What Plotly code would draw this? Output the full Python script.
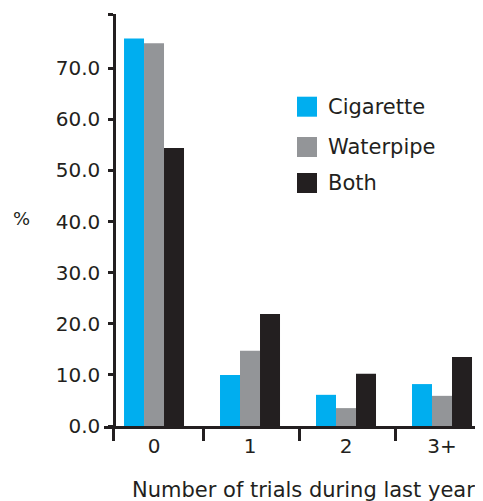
import plotly.graph_objects as go

categories = ["0", "1", "2", "3+"]
series_names = ["Cigarette", "Waterpipe", "Both"]
cigarette = [75.8, 10.0, 6.1, 8.2]
waterpipe = [74.9, 14.7, 3.5, 5.9]
both = [54.4, 21.9, 10.2, 13.5]
y_tick_vals = [0, 10, 20, 30, 40, 50, 60, 70, 80.6]
y_tick_text = ["0.0", "10.0", "20.0", "30.0", "40.0", "50.0", "60.0", "70.0", ""]
x_title = "Number of trials during last year"
y_title = "%"

colors = ["#00AEEF", "#939598", "#231F20"]
ink = "#231F20"
FONT = "DejaVu Sans, Verdana, sans-serif"

OFF = 8  # page body margin
W, H = 483 - OFF, 501 - OFF
L, R, T, B = 104 - OFF, 0, 14 - OFF, 75
pw, ph = W - L - R, H - T - B


def px_x(x):
    return (x - OFF - L) / pw


def px_y(y):
    return (H - B - (y - OFF)) / ph


xpos = list(range(len(categories)))
fig = go.Figure()
for name, vals, c in zip(series_names, [cigarette, waterpipe, both], colors):
    fig.add_trace(go.Bar(x=xpos, y=vals, name=name, marker=dict(color=c, line=dict(width=0)),
                         showlegend=False))

fig.update_layout(
    width=W, height=H,
    margin=dict(l=L, r=R, t=T, b=B, pad=0),
    paper_bgcolor="white", plot_bgcolor="white",
    barmode="group", bargap=0.375, bargroupgap=0,
    font=dict(family=FONT, color=ink, size=20),
    xaxis=dict(range=[-0.521, 3.427], tickvals=xpos, ticktext=categories, ticks="",
               showline=True, linewidth=3, linecolor=ink, showgrid=False, zeroline=False,
               tickfont=dict(size=20, color=ink), ticklabelstandoff=0,
               minor=dict(tickvals=[-0.417, 0.52, 1.52, 2.52], ticks="outside", ticklen=12,
                          tickwidth=2.5, tickcolor=ink, showgrid=False)),
    yaxis=dict(range=[0, 80.6], tickvals=y_tick_vals, ticktext=y_tick_text, ticks="outside",
               ticklen=5, tickwidth=2.5, tickcolor=ink, showline=True, linewidth=2.5,
               linecolor=ink, showgrid=False, zeroline=False, anchor="free",
               position=px_x(114), tickfont=dict(size=20, color=ink), ticklabelstandoff=4),
)

# x title and y title
fig.add_annotation(text=x_title, xref="paper", yref="paper", x=px_x(303), y=px_y(490),
                   showarrow=False, font=dict(size=21, color=ink), xanchor="center", yanchor="middle")
fig.add_annotation(text=y_title, xref="paper", yref="paper", x=px_x(21), y=px_y(218),
                   showarrow=False, font=dict(size=18, color=ink), xanchor="center", yanchor="middle")

# legend
leg_y = [106.7, 147, 183]
for name, c, cy in zip(series_names, colors, leg_y):
    fig.add_shape(type="rect", xref="paper", yref="paper", x0=px_x(297), x1=px_x(317),
                  y0=px_y(cy - 10), y1=px_y(cy + 10), fillcolor=c, line=dict(width=0))
    fig.add_annotation(text=name, xref="paper", yref="paper", x=px_x(326), y=px_y(cy),
                       showarrow=False, xanchor="left", yanchor="middle",
                       font=dict(size=21, color=ink))

fig.write_html("out.html")
